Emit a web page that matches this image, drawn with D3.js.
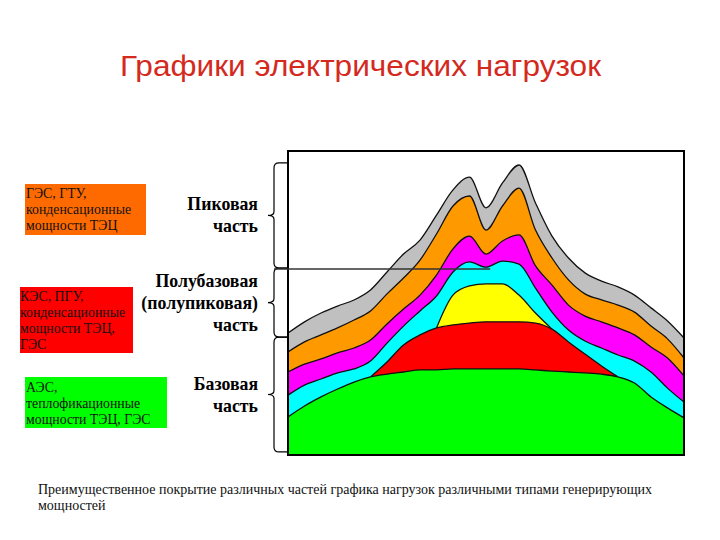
<!DOCTYPE html>
<html>
<head>
<meta charset="utf-8">
<script src="https://cdn.jsdelivr.net/npm/d3@7"></script>
<style>
  html, body { margin: 0; padding: 0; background: #ffffff; }
  svg { display: block; }
</style>
</head>
<body>
<svg id="chart" width="720" height="540"></svg>
<script>
// ---------- DATA ----------
const title = "Графики электрических нагрузок";
const hours = [0,1,2,3,4,5,6,7,8,9,10,11,12,13,14,15,16,17,18,19,20,21,22,23,24];

// cumulative load levels (top boundary of each layer), % of the maximum scale
const greyTop    = [40.1,43.8,46.7,49.0,51.0,54.3,60.2,66.1,70.7,78.9,87.2,91.4,81.3,89.5,95.4,82.9,72.0,64.8,59.9,57.2,55.3,52.6,48.4,44.1,38.5];
const orangeTop  = [33.9,37.2,39.5,41.8,44.4,47.4,53.0,58.2,64.1,72.7,81.9,85.2,74.0,81.9,87.8,74.0,64.8,57.6,53.0,51.0,49.3,47.0,42.4,38.2,31.9];
const magentaTop = [27.3,29.9,31.6,33.6,35.2,37.8,43.1,48.0,52.6,59.2,67.8,72.0,66.1,70.4,72.4,62.2,55.9,49.3,45.7,43.8,41.8,39.5,35.5,31.9,26.0];
const cyanTop    = [19.7,23.0,25.0,27.0,28.3,30.9,36.8,42.4,47.4,52.3,60.2,63.5,61.8,63.8,62.8,54.9,47.0,41.1,37.5,35.2,32.9,30.9,27.3,22.0,17.4];
const yellowTop  = [null,null,null,null,null,null,null,null,null,41.8,52.6,55.6,56.3,56.3,52.6,46.7,41.4,null,null,null,null,null,null,null,null];
const redTop     = [null,null,null,null,null,25.7,30.6,36.2,39.5,41.8,42.8,43.4,43.8,43.8,43.8,43.4,41.4,37.2,33.2,29.3,25.7,null,null,null,null];
const greenTop   = [12.5,16.1,19.1,21.7,24.0,25.7,26.6,27.3,28.0,28.0,28.3,28.3,28.3,28.3,28.3,28.0,27.6,27.3,27.0,26.6,25.7,23.7,19.1,15.5,12.2];

// zones of the load graph (boundaries in the same % units)
const zoneNames  = [["Пиковая","часть"],["Полубазовая","(полупиковая)","часть"],["Базовая","часть"]];
const zoneBounds = [96.1, 61.5, 38.8, 1.0];

// generating capacity legend boxes
const legendTexts = [
  ["ГЭС, ГТУ,","конденсационные","мощности ТЭЦ"],
  ["КЭС, ПГУ,","конденсационные","мощности ТЭЦ,","ГЭС"],
  ["АЭС,","теплофикационные","мощности ТЭЦ, ГЭС"]
];
const footnote = ["Преимущественное покрытие различных частей графика нагрузок различными типами генерирующих","мощностей"];

// ---------- DRAW ----------
const svg = d3.select("#chart");
const plot = {left: 288, right: 684, top: 151, bottom: 455};

const x = d3.scaleLinear().domain([0, 24]).range([plot.left, plot.right]);
const y = d3.scaleLinear().domain([0, 100]).range([plot.bottom, plot.top]);

const layers = [
  {name: "grey",    values: greyTop,    color: "#c0c0c0"},
  {name: "orange",  values: orangeTop,  color: "#ff9900"},
  {name: "magenta", values: magentaTop, color: "#ff00ff"},
  {name: "cyan",    values: cyanTop,    color: "#00ffff"},
  {name: "yellow",  values: yellowTop,  color: "#ffff00"},
  {name: "red",     values: redTop,     color: "#ff0000"},
  {name: "green",   values: greenTop,   color: "#00ff00"}
];

const curve = d3.curveMonotoneX;
const area = d3.area()
  .defined(d => d.v != null)
  .x(d => x(d.h))
  .y0(y(0))
  .y1(d => y(d.v))
  .curve(curve);
const line = d3.line()
  .defined(d => d.v != null)
  .x(d => x(d.h))
  .y(d => y(d.v))
  .curve(curve);

const g = svg.append("g");
layers.forEach(L => {
  const pts = hours.map((h, i) => ({h: h, v: L.values[i]}));
  g.append("path").attr("d", area(pts)).attr("fill", L.color).attr("stroke", "none");
  g.append("path").attr("d", line(pts)).attr("fill", "none")
    .attr("stroke", "#111").attr("stroke-width", 1.3);
});

// frame
svg.append("rect")
  .attr("x", plot.left).attr("y", plot.top)
  .attr("width", plot.right - plot.left).attr("height", plot.bottom - plot.top)
  .attr("fill", "none").attr("stroke", "#000").attr("stroke-width", 2);

// braces
const bx = 274, hookX = plot.left;
for (let i = 0; i < 3; i++) {
  const y0 = y(zoneBounds[i]) , y1 = y(zoneBounds[i + 1]);
  const mid = (y0 + y1) / 2;
  const p = d3.path();
  p.moveTo(hookX, y0);
  p.lineTo(bx + 5, y0);
  p.quadraticCurveTo(bx, y0, bx, y0 + 5);
  p.lineTo(bx, mid - 4);
  p.quadraticCurveTo(bx, mid, bx - 6, mid);
  p.quadraticCurveTo(bx, mid, bx, mid + 4);
  p.lineTo(bx, y1 - 5);
  p.quadraticCurveTo(bx, y1, bx + 5, y1);
  p.lineTo(hookX, y1);
  svg.append("path").attr("d", p.toString()).attr("fill", "none")
    .attr("stroke", "#000").attr("stroke-width", 1.2);

  // zone labels
  const lines = zoneNames[i];
  const lh = 22;
  const startY = mid - (lines.length - 1) * lh / 2 + 6;
  const t = svg.append("text")
    .attr("text-anchor", "end")
    .attr("font-family", "'Liberation Serif', 'Times New Roman', serif")
    .attr("font-weight", "bold").attr("font-size", 17.8).attr("fill", "#000");
  lines.forEach((s, j) => t.append("tspan").attr("x", 258).attr("y", startY + j * lh).text(s));
}

// line from peak/semi-base boundary into the chart
svg.append("line")
  .attr("x1", bx).attr("x2", x(12.25))
  .attr("y1", y(zoneBounds[1]) + 1).attr("y2", y(zoneBounds[1]) + 1)
  .attr("stroke", "#333").attr("stroke-width", 1.5);

// legend boxes
const boxes = [
  {x: 25, y: 184, w: 121, h: 51, color: "#ff6a00", lines: legendTexts[0], ty: 198, tx: 26},
  {x: 20, y: 287, w: 113, h: 66, color: "#ff0000", lines: legendTexts[1], ty: 301, tx: 20},
  {x: 25, y: 377, w: 142, h: 51, color: "#00ff00", lines: legendTexts[2], ty: 392, tx: 26}
];
boxes.forEach(b => {
  svg.append("rect").attr("x", b.x).attr("y", b.y).attr("width", b.w).attr("height", b.h).attr("fill", b.color);
  const t = svg.append("text")
    .attr("font-family", "'Liberation Serif', 'Times New Roman', serif")
    .attr("font-size", 13.8).attr("fill", "#111");
  b.lines.forEach((s, j) => t.append("tspan").attr("x", b.tx).attr("y", b.ty + j * 16).text(s));
});

// title
svg.append("text")
  .attr("x", 120).attr("y", 76)
  .attr("font-family", "'Liberation Sans', Arial, sans-serif")
  .attr("font-size", 30).attr("fill", "#d42a1e")
  .attr("textLength", 481).attr("lengthAdjust", "spacingAndGlyphs")
  .text(title);

// footnote
const fn = svg.append("text")
  .attr("font-family", "'Liberation Serif', 'Times New Roman', serif")
  .attr("font-size", 14).attr("fill", "#111");
footnote.forEach((s, j) => fn.append("tspan").attr("x", 38).attr("y", 494 + j * 16).text(s));
</script>
</body>
</html>
